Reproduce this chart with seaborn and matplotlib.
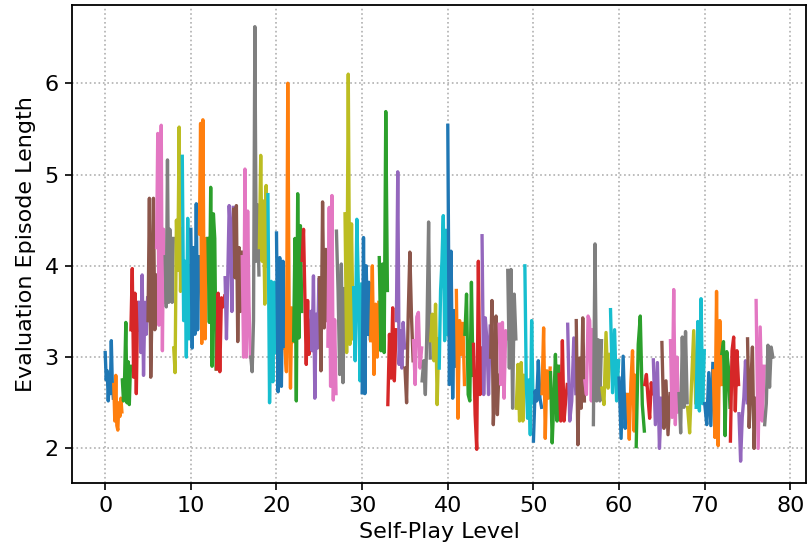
import numpy as np
import pandas as pd
import seaborn as sns
import matplotlib
matplotlib.use('Agg')
import matplotlib.pyplot as plt

# Episode lengths per self-play level, grouped by tens
levels_00_09 = [
    [3.05, 2.75, 2.85, 2.52, 2.8, 2.6, 3.18, 2.7, 2.55],
    [2.7, 2.3, 2.8, 2.25, 2.2, 2.5, 2.35, 2.55, 2.4],
    [2.75, 2.52, 2.8, 3.38, 2.5, 2.95, 2.48, 2.9],
    [3.3, 3.97, 2.78, 3.7, 2.6, 3.6, 3.3],
    [3.6, 3.05, 3.9, 2.8, 3.6, 3.25, 3.65],
    [3.4, 4.74, 2.78, 3.6, 4.74, 3.3, 3.9],
    [4.2, 5.45, 3.35, 4.7, 5.54, 3.07, 4.4, 3.6],
    [4.1, 3.55, 5.16, 3.6, 4.4, 3.95, 3.6, 4.3],
    [3.1, 2.83, 4.5, 3.95, 5.52, 3.72, 4.4],
    [5.2, 3.4, 4.05, 3.0, 4.52, 3.2, 4.0],
]
levels_10_19 = [
    [4.4, 3.1, 4.2, 3.25, 4.68, 3.3, 4.1],
    [4.35, 5.56, 3.15, 5.6, 3.7, 3.2, 4.3, 3.9],
    [4.3, 3.38, 4.86, 2.9, 4.57, 4.3, 2.87],
    [2.87, 3.7, 2.84, 3.65, 3.55, 3.67],
    [3.87, 3.2, 3.9, 4.66, 4.35, 3.5, 4.64],
    [4.62, 3.87, 4.66, 3.17, 4.2, 3.5, 4.15],
    [4.1, 3.0, 5.06, 3.0, 4.6, 3.57, 3.0],
    [3.0, 2.84, 3.4, 6.62, 4.05, 4.67, 3.9],
    [4.2, 5.21, 4.05, 4.71, 3.58, 4.88, 4.0],
    [4.78, 2.5, 3.83, 2.73, 3.82, 3.05],
]
levels_20_29 = [
    [4.36, 2.62, 4.09, 2.68, 4.05, 3.1],
    [3.08, 2.84, 6.0, 3.5, 2.66, 3.54, 3.17],
    [3.18, 4.3, 2.52, 4.79, 3.21, 4.44, 3.5],
    [4.06, 4.4, 3.65, 2.92, 3.62, 3.03, 3.4],
    [3.5, 3.07, 3.89, 2.55, 3.47, 3.1, 3.85],
    [3.87, 2.85, 4.7, 3.32, 4.18, 3.4],
    [3.12, 4.64, 2.68, 4.77, 2.53, 3.41, 2.6],
    [4.38, 3.73, 2.81, 4.02, 2.72, 3.75],
    [4.57, 3.05, 6.1, 3.14, 4.46, 3.2],
    [3.76, 2.96, 4.51, 3.72, 2.74, 3.8],
]
levels_30_39 = [
    [2.61, 4.31, 2.6, 4.0, 3.25, 3.82, 3.2],
    [3.18, 4.0, 2.81, 3.58, 3.0, 3.6],
    [4.09, 3.07, 4.02, 3.05, 5.69, 3.73],
    [2.48, 3.25, 2.77, 3.54, 2.74, 3.3],
    [3.4, 5.03, 2.92, 3.29, 2.88, 3.38, 3.1],
    [2.88, 2.5, 3.47, 4.15, 3.45, 2.96],
    [3.18, 2.7, 3.44, 3.49, 2.88, 3.1],
    [2.74, 2.96, 2.59, 3.32, 4.48, 2.99],
    [3.18, 3.47, 2.96, 3.58, 2.48, 3.2],
    [2.88, 3.73, 4.05, 4.55, 3.18, 4.39, 3.25],
]
levels_40_49 = [
    [5.54, 2.7, 4.16, 2.55, 3.51, 2.9],
    [3.73, 2.33, 3.4, 3.03, 3.37, 2.7],
    [3.25, 3.69, 2.59, 2.52, 3.82, 2.8],
    [3.14, 2.37, 1.99, 4.05, 2.59, 3.1],
    [4.33, 2.59, 3.43, 3.18, 2.59, 3.34],
    [3.0, 3.62, 2.26, 2.7, 3.45, 2.37, 2.8],
    [3.36, 2.7, 3.38, 2.55, 3.29, 3.2],
    [3.95, 2.88, 3.96, 2.44, 3.69, 3.2],
    [2.44, 2.92, 2.3, 2.94, 2.3, 2.8],
    [4.0, 2.74, 2.33, 2.75, 2.15, 3.4, 2.5],
]
levels_50_59 = [
    [2.08, 2.63, 2.52, 2.96, 2.55, 2.45],
    [2.6, 3.32, 2.11, 2.85, 2.55, 2.88],
    [2.83, 2.06, 2.52, 3.03, 2.3, 2.9],
    [2.81, 2.3, 3.18, 2.3, 2.52, 2.7],
    [3.36, 2.3, 2.52, 3.21, 2.6],
    [3.4, 2.04, 2.99, 2.44, 3.43, 2.52],
    [2.74, 2.59, 3.45, 3.4, 2.52, 3.3],
    [2.26, 4.24, 2.52, 3.19, 2.52, 3.18],
    [2.66, 2.48, 3.27, 2.66, 3.03],
    [3.52, 2.61, 3.3, 2.52, 2.96],
]
levels_60_69 = [
    [2.77, 2.11, 3.01, 2.22, 2.59],
    [2.59, 2.1, 2.72, 3.07, 2.19, 2.8],
    [2.02, 3.14, 3.45, 2.48, 2.19],
    [2.7, 2.81, 2.55, 2.33, 2.72, 2.6],
    [2.97, 2.26, 2.94, 2.0, 2.55],
    [3.16, 2.22, 2.74, 2.15, 2.6],
    [3.18, 2.34, 3.74, 2.26, 3.0, 2.4],
    [2.6, 2.17, 3.22, 2.45, 3.28, 2.5],
    [2.45, 2.17, 2.74, 3.29, 2.5],
    [2.45, 3.39, 2.41, 3.64, 2.49, 3.07],
]
levels_70_77 = [
    [2.49, 2.26, 2.83, 2.25, 2.93],
    [2.85, 2.12, 3.72, 2.03, 3.4, 2.7],
    [3.04, 3.17, 2.14, 3.06, 2.89, 2.45],
    [2.08, 3.07, 3.22, 2.41, 3.07, 2.7],
    [2.38, 1.86, 2.34, 2.56, 2.96, 2.5],
    [3.2, 2.23, 2.71, 3.11, 2.0, 2.55],
    [3.62, 2.0, 3.33, 2.3, 2.9],
    [2.26, 2.49, 3.13, 2.67, 3.11, 3.0],
]

all_levels = (levels_00_09 + levels_10_19 + levels_20_29 + levels_30_39
              + levels_40_49 + levels_50_59 + levels_60_69 + levels_70_77)

# long format table, each level spread over its own unit interval
rows = []
for lvl, vals in enumerate(all_levels):
    xs = np.linspace(lvl, lvl + 0.95, len(vals))
    for x, y in zip(xs, vals):
        rows.append({'level': lvl, 'x': x, 'y': y})
df = pd.DataFrame(rows)

tab10 = sns.color_palette('tab10', 10)
pal = {lvl: tab10[lvl % 10] for lvl in range(len(all_levels))}

fig = plt.figure(figsize=(8.07, 5.5), dpi=100)
ax = fig.add_axes([0.089, 0.122, 0.91, 0.869])
sns.lineplot(data=df, x='x', y='y', hue='level', palette=pal, estimator=None,
             sort=False, legend=False, linewidth=2.4, ax=ax)

ax.set_xticks(range(0, 81, 10))
ax.set_yticks([2, 3, 4, 5, 6])
ax.tick_params(labelsize=16, length=5, width=1.2, pad=4.5)
ax.set_xlabel('Self-Play Level', fontsize=16, labelpad=4)
ax.set_ylabel('Evaluation Episode Length', fontsize=16, labelpad=6)
ax.grid(True, linestyle=':', color='#b0b0b0', linewidth=1.2)
for s in ax.spines.values():
    s.set_linewidth(1.3)

fig.savefig('out.png', dpi=100)
